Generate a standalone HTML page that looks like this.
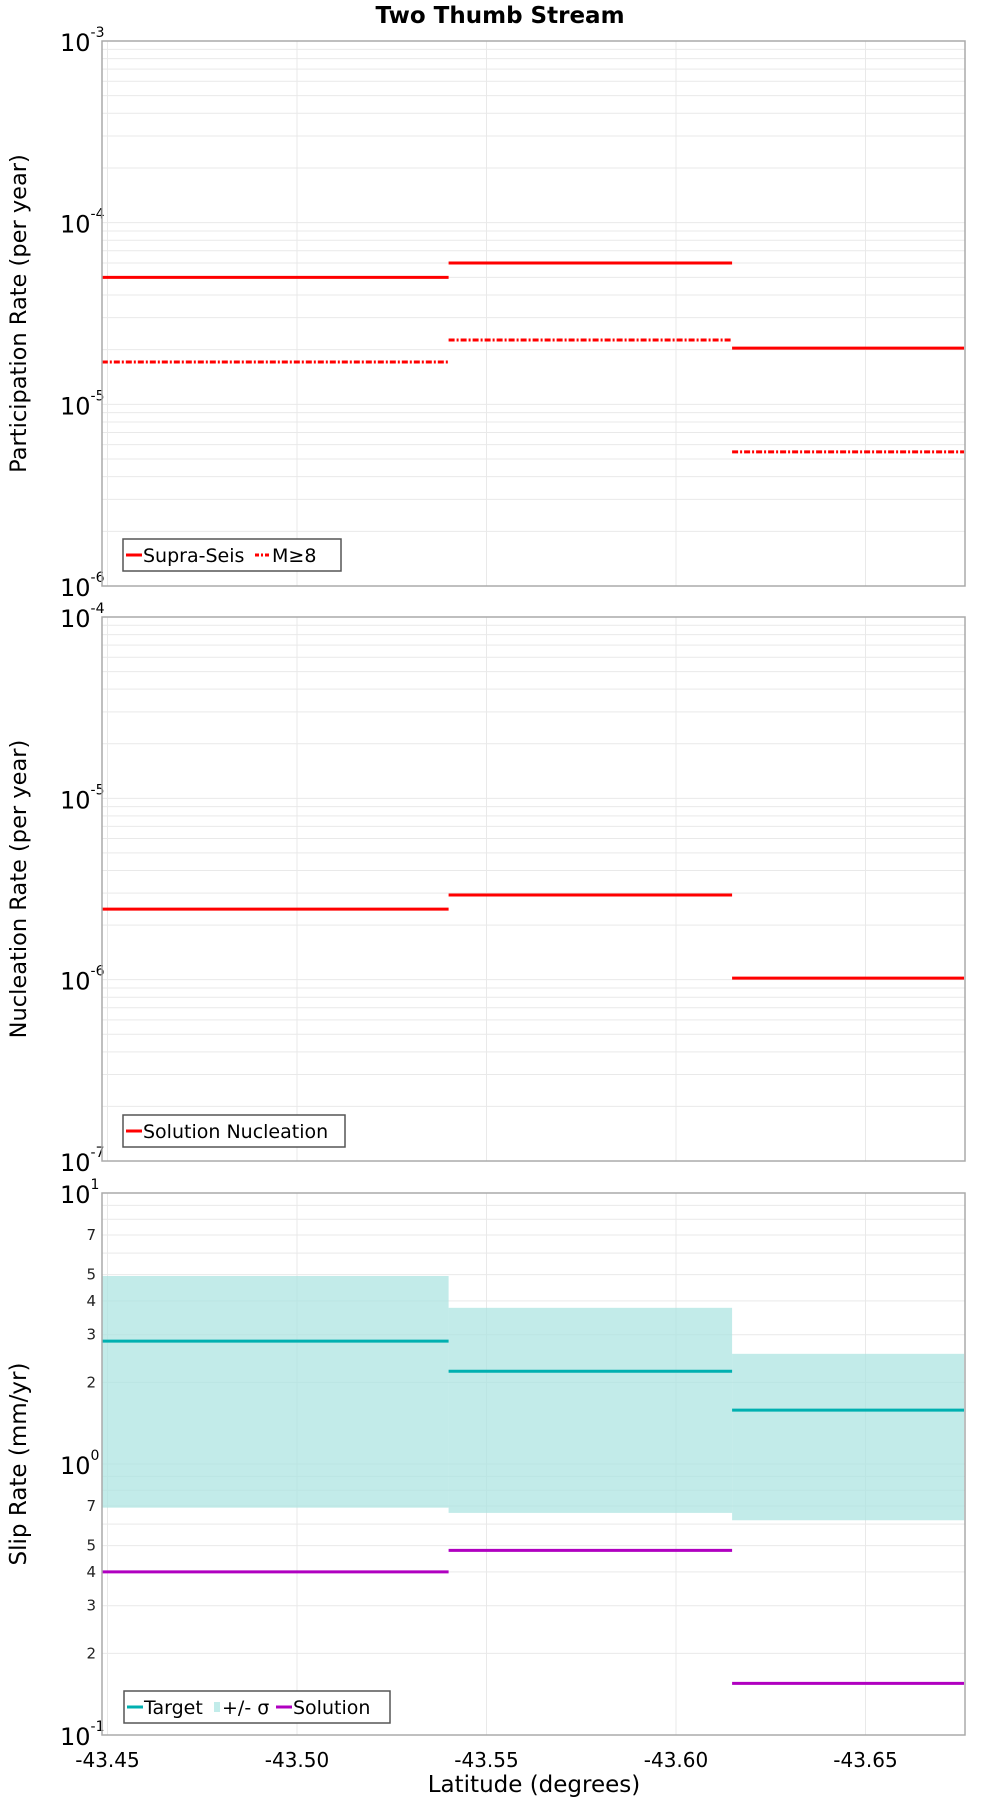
<!DOCTYPE html>
<html><head><meta charset="utf-8"><style>
body{margin:0;background:#fff;}
svg{display:block;font-family:"DejaVu Sans","Liberation Sans",sans-serif;}
</style></head><body>
<svg id="chart" width="1000" height="1800" xmlns="http://www.w3.org/2000/svg">
<text x="500" y="23" text-anchor="middle" font-size="23" font-weight="bold">Two Thumb Stream</text>
<text x="534" y="1792" text-anchor="middle" font-size="23">Latitude (degrees)</text>
</svg>
<script>
const xTicks = [-43.45, -43.50, -43.55, -43.60, -43.65];
const xTickLabels = ["-43.45", "-43.50", "-43.55", "-43.60", "-43.65"];
const segStart = [-43.4485, -43.540, -43.6148];
const segEnd = [-43.540, -43.6148, -43.676];
const supraSeis = [5.0e-5, 6.0e-5, 2.04e-5];
const m8 = [1.71e-5, 2.26e-5, 5.47e-6];
const nucleation = [2.45e-6, 2.93e-6, 1.02e-6];
const target = [2.84, 2.2, 1.58];
const sigmaHigh = [4.94, 3.77, 2.55];
const sigmaLow = [0.69, 0.66, 0.62];
const solution = [0.40, 0.48, 0.155];

const NS = "http://www.w3.org/2000/svg";
const svg = document.getElementById("chart");
const L = 102, R = 965;
function xs(v){ return 107.5 + (-43.45 - v) / 0.05 * 189.5; }
function mk(tag, attrs, parent){
  const e = document.createElementNS(NS, tag);
  for (const k in attrs) e.setAttribute(k, attrs[k]);
  (parent || svg).appendChild(e);
  return e;
}
function panel(name, top, bot, d0, d1, title, minorLabels, titleSize){
  const g = mk("g", {});
  
  
  const ppd = (bot - top) / (d1 - d0);
  const ys = v => bot - (Math.log10(v) - d0) * ppd;
  for (let d = d0; d < d1; d++) {
    for (let m = 1; m <= 9; m++) {
      const v = m * Math.pow(10, d);
      const y = ys(v);
      const ln = mk("line", {x1:L, x2:R, y1:y, y2:y, stroke:"#e9e9e9", "stroke-width":1}, g);
      
      
      if (minorLabels && [2,3,4,5,7].includes(m)) {
        const t = mk("text", {x:96, y:y+5, "text-anchor":"end", "font-size":15, fill:"#222"}, g);
        t.textContent = m;
        
        
      }
    }
  }
  xTicks.forEach(v => {
    const x = xs(v);
    const ln = mk("line", {x1:x, x2:x, y1:top, y2:bot, stroke:"#e9e9e9", "stroke-width":1}, g);
    
    
  });
  for (let d = d0; d <= d1; d++) {
    const y = ys(Math.pow(10, d));
    const t = mk("text", {x:60, y:y+10, "font-size":24}, g);
    
    
    t.textContent = "10";
    const s = mk("tspan", {dy:-14, "font-size":14}, t);
    s.textContent = String(d);
  }
  const tt = mk("text", {x:0, y:0, "text-anchor":"middle", "font-size":titleSize, transform:`translate(26,${(top+bot)/2}) rotate(-90)`}, g);
  tt.textContent = title;
  
  
  return {g, ys};
}
function seg(g, ys, vals, color, name, dash){
  vals.forEach((v, i) => {
    const y = ys(v);
    const a = {x1:xs(segStart[i]), x2:xs(segEnd[i]), y1:y, y2:y, stroke:color, "stroke-width":3};
    if (dash) a["stroke-dasharray"] = dash;
    const ln = mk("line", a, g);
    
    
  });
}
function frame(g, top, bot){
  const r = mk("rect", {x:L, y:top, width:R-L, height:bot-top, fill:"none", stroke:"#aaa", "stroke-width":1.5}, g);
  
  
}
function legend(g, x, y, w, items){
  const lg = mk("g", {}, g);
  
  
  mk("rect", {x:x, y:y, width:w, height:32, fill:"#fff", stroke:"#555", "stroke-width":1.5}, lg);
  let cx = x + 3;
  items.forEach(it => {
    if (it.box) {
      mk("rect", {x:cx, y:y+11, width:6, height:10, fill:it.color}, lg);
      cx += 8;
    } else {
      const a = {x1:cx, x2:cx+16, y1:y+16, y2:y+16, stroke:it.color, "stroke-width":3};
      if (it.dash) a["stroke-dasharray"] = it.dash;
      mk("line", a, lg);
      cx += 17;
    }
    const t = mk("text", {x:cx, y:y+23, "font-size":19}, lg);
    t.textContent = it.label;
    
    
    cx += it.w;
  });
}
const dashDot = "6,2,2,2";
let p = panel("participation-panel", 41, 586, -6, -3, "Participation Rate (per year)", false, 22.5);
seg(p.g, p.ys, supraSeis, "#ff0000", "supra-seis-line");
seg(p.g, p.ys, m8, "#ff0000", "m8-line", dashDot);
frame(p.g, 41, 586);
legend(p.g, 123, 539, 218, [{color:"#f00", label:"Supra-Seis", w:112},{color:"#f00", dash:"4,2,2,2", label:"M≥8", w:50}]);
p = panel("nucleation-panel", 617, 1161, -7, -4, "Nucleation Rate (per year)", false, 22.5);
seg(p.g, p.ys, nucleation, "#ff0000", "nucleation-line");
frame(p.g, 617, 1161);
legend(p.g, 123, 1115, 222, [{color:"#f00", label:"Solution Nucleation", w:200}]);
p = panel("slip-rate-panel", 1193, 1735, -1, 1, "Slip Rate (mm/yr)", true, 23);
sigmaHigh.forEach((v, i) => {
  const y1 = p.ys(v), y2 = p.ys(sigmaLow[i]);
  const r = mk("rect", {x:xs(segStart[i]), y:y1, width:xs(segEnd[i])-xs(segStart[i]), height:y2-y1, fill:"#a8e2e0", "fill-opacity":0.7}, p.g);
  
  
});
seg(p.g, p.ys, target, "#00b0b0", "target-line");
seg(p.g, p.ys, solution, "#b000c0", "solution-line");
frame(p.g, 1193, 1735);
legend(p.g, 124, 1691, 266, [{color:"#00b0b0", label:"Target", w:70},{color:"#c2ecea", box:true, label:"+/- σ", w:54},{color:"#b000c0", label:"Solution", w:80}]);
xTicks.forEach((v, i) => {
  const t = mk("text", {x:xs(v), y:1767, "text-anchor":"middle", "font-size":20});
  t.textContent = xTickLabels[i];
  
  
});
</script>
</body></html>
